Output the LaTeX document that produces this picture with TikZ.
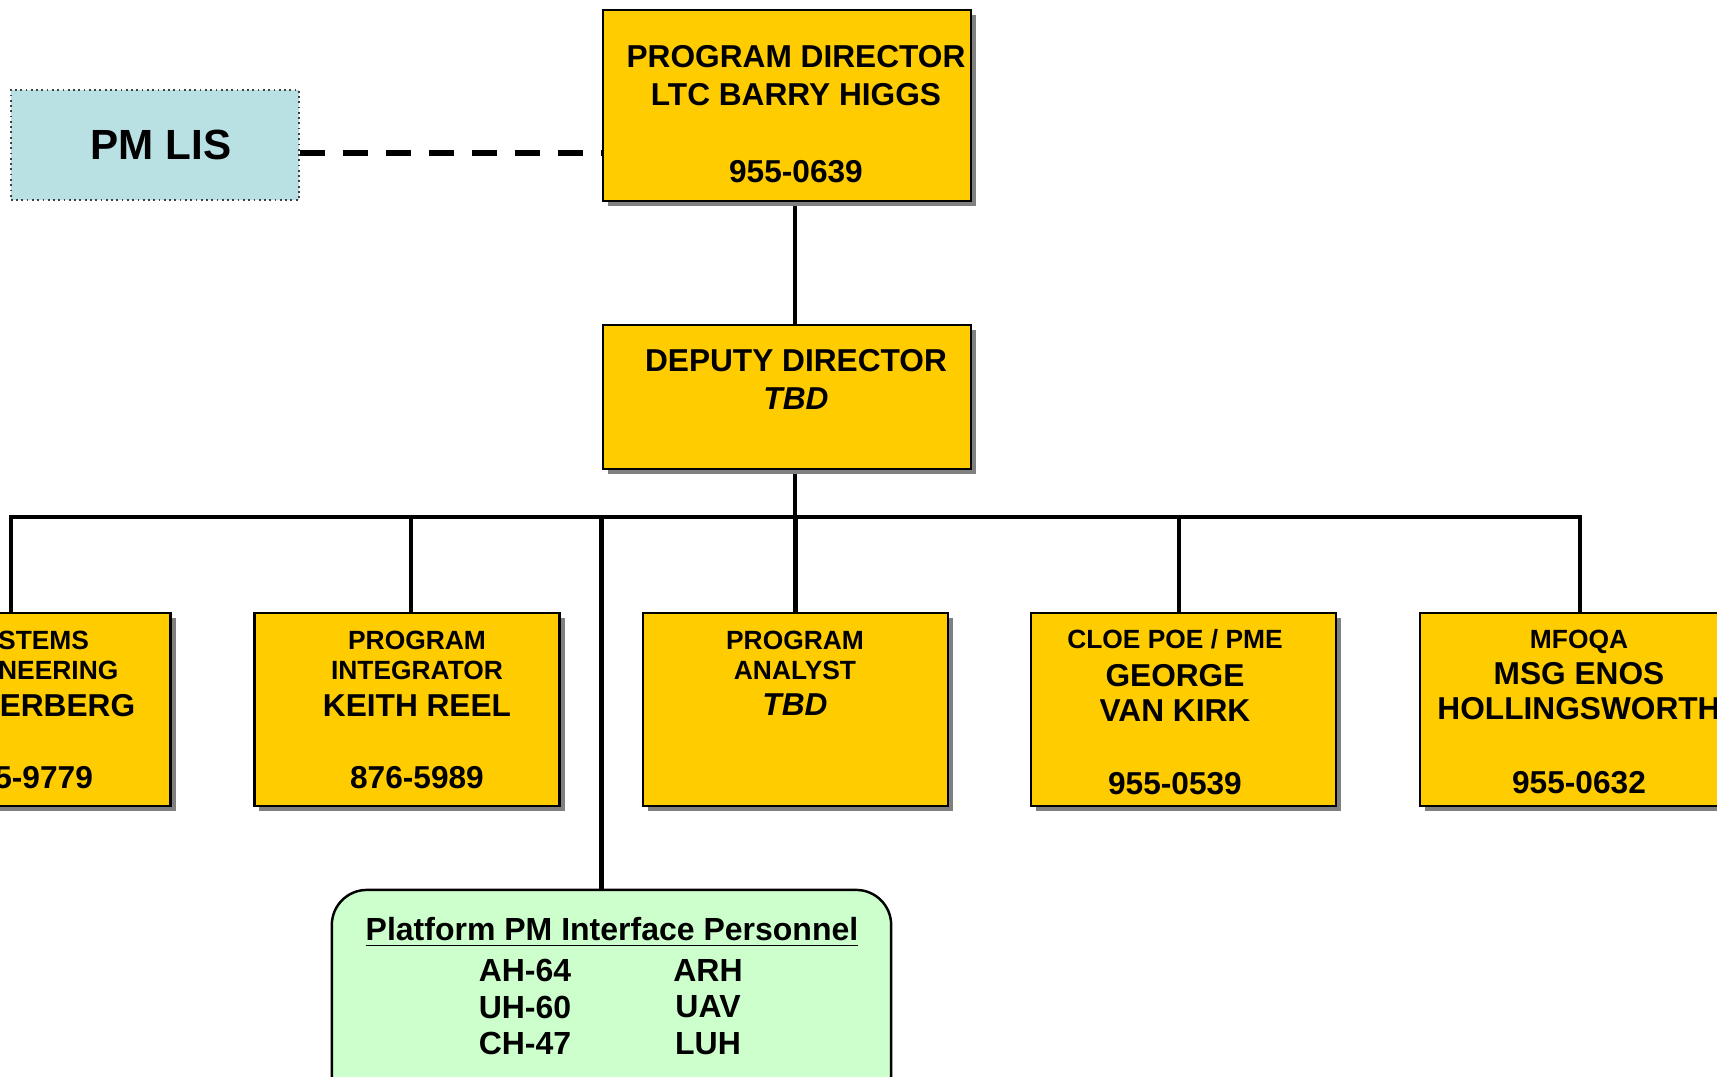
\documentclass[tikz,border=0pt]{standalone}
\usepackage{fontspec}
\setmainfont{Liberation Sans}
\usetikzlibrary{shadows,backgrounds}

\definecolor{boxgold}{HTML}{FFCC00}
\definecolor{lisblue}{HTML}{B9E1E4}
\definecolor{platgreen}{HTML}{CCFFCC}

\newcommand{\smalltitle}{\fontsize{7.5}{8.54}\selectfont}

\tikzset{
  orgbox/.style={draw=black, line width=0.7pt, fill=boxgold, inner sep=0pt,
    minimum width=3.05cm, minimum height=1.93cm,
    drop shadow={fill=gray, opacity=1, shadow xshift=0.05cm, shadow yshift=-0.05cm}},
  orgtext/.style={align=center, inner sep=0pt, anchor=north,
    font=\bfseries\fontsize{9}{8.54}\selectfont},
  orgline/.style={line width=1.4pt},
}

\begin{document}
\begin{tikzpicture}[x=0.01cm, y=-0.01cm]
  \useasboundingbox (0,0) rectangle (1717,1077);
  \clip (0,0) rectangle (1717,1077);

  % director and deputy
  \node[draw=black!75, densely dotted, line width=0.5pt, fill=lisblue, minimum width=2.88cm, minimum height=1.1cm,
        font=\bfseries\fontsize{12}{14}\selectfont] (pmlis) at (155,145) {\hspace*{0.12cm}PM LIS};
  \node[orgbox, minimum width=3.68cm, minimum height=1.91cm] (prgdir) at (787,105.5) {};
  \node[orgtext] (prgdir-txt) at (796,44.5) {PROGRAM DIRECTOR\\[2.28pt]LTC BARRY HIGGS\\[13.4pt]955-0639};
  \node[orgbox, minimum width=3.68cm, minimum height=1.44cm] (depdir) at (787,397) {};
  \node[orgtext] (depdir-txt) at (796,348.5) {DEPUTY DIRECTOR\\[2.28pt]\itshape TBD};

  % staff row
  \node[orgbox] (sysengr) at (18,709.5) {};
  \node[orgtext] (sysengr-txt) at (26,630) {\smalltitle\phantom{SY}STEMS\\ \smalltitle\phantom{ENGI}NEERING\\[2.2pt]\hspace*{2.62em}ERBERG\\[11.7pt]\phantom{95}5-9779};
  \node[orgbox] (prgint) at (407,709.5) {};
  \node[orgtext] (prgint-txt) at (417,630) {\smalltitle PROGRAM\\ \smalltitle INTEGRATOR\\[2.2pt]KEITH REEL\\[11.7pt]876-5989};
  \node[orgbox] (prganl) at (795.5,709.5) {};
  \node[orgtext] (prganl-txt) at (795,630) {\smalltitle PROGRAM\\ \smalltitle ANALYST\\[1.9pt]\itshape TBD};
  \node[orgbox] (cloepme) at (1183.5,709.5) {};
  \node[orgtext] (cloepme-txt) at (1175,629) {\smalltitle CLOE POE / PME\\[2.2pt]GEORGE\\[1.4pt]VAN KIRK\\[12.2pt]955-0539};
  \node[orgbox] (mfoqa) at (1572.5,709.5) {};
  \node[orgtext] (mfoqa-txt) at (1579,629) {\smalltitle MFOQA\\[1.9pt]MSG ENOS\\[1.4pt]HOLLINGSWORTH\\[12.5pt]955-0632};

  % platform box
  \node[draw=black, line width=0.7pt, fill=platgreen, rounded corners=0.35cm,
        minimum width=5.59cm, minimum height=2.2cm] (platpm) at (611.5,1000) {};
  \node[orgtext, font=\bfseries\fontsize{9.1}{10.4}\selectfont] (platpm-ttl) at (612,916.5) {\underline{Platform PM Interface Personnel}};
  \node[orgtext, font=\bfseries\fontsize{9.1}{10.4}\selectfont] (platpm-left) at (525,958.7) {AH-64\\UH-60\\CH-47};
  \node[orgtext, font=\bfseries\fontsize{9.1}{10.4}\selectfont] (platpm-right) at (708,958.7) {ARH\\UAV\\LUH};

  % connectors
  \coordinate (spine) at (795,0);
  \coordinate (bus) at (0,517);
  \coordinate (dashrow) at (0,153);
  \begin{pgfonlayer}{background}
    \draw[orgline, line width=1.7pt, dash pattern=on 0.25cm off 0.18cm] (pmlis.east |- dashrow) -- (prgdir.west |- dashrow);
    \draw[orgline] (spine |- prgdir.south) -- (spine |- depdir.north);
    \draw[orgline] (spine |- depdir.south) -- (spine |- bus);
    \draw[orgline] ([xshift=-0.07cm]sysengr.north) -- ([xshift=-0.07cm]sysengr.north |- bus)
      -- ([xshift=0.075cm]mfoqa.north |- bus) -- ([xshift=0.075cm]mfoqa.north);
    \foreach \staff/\dx in {prgint/0.04, prganl/0, cloepme/-0.045}
      \draw[orgline] ([xshift=\dx cm]\staff.north) -- ([xshift=\dx cm]\staff.north |- bus);
    \draw[orgline] (depdir.west |- bus) -- (depdir.west |- platpm.north);
  \end{pgfonlayer}
\end{tikzpicture}
\end{document}
